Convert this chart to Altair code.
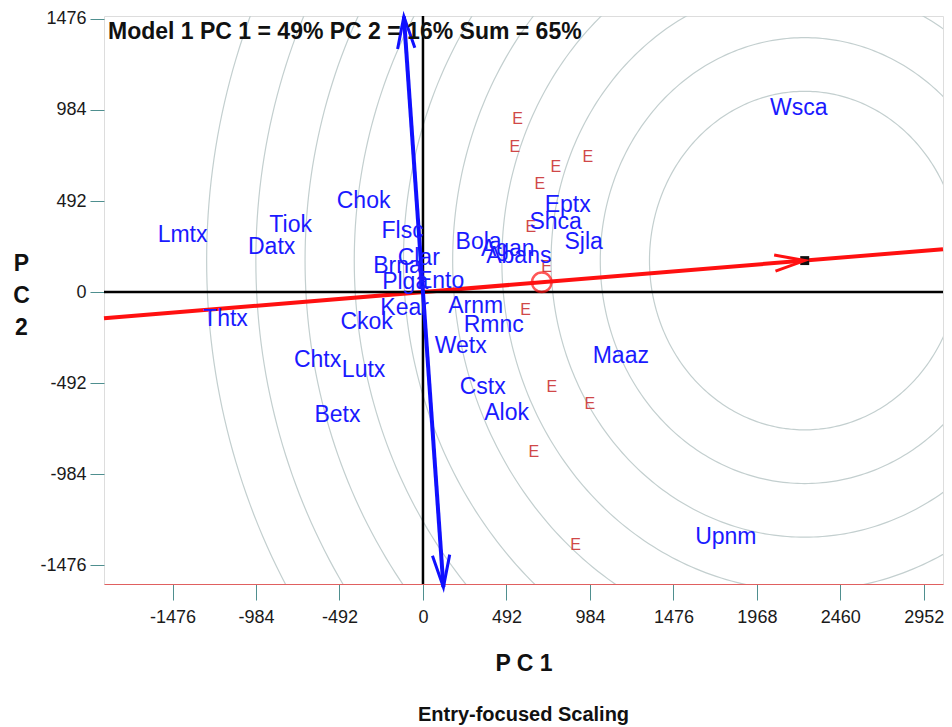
import altair as alt
import pandas as pd
import numpy as np

# ---- axis setup ----
x_ticks = [-1476, -984, -492, 0, 492, 984, 1476, 1968, 2460, 2952]
y_ticks = [-1476, -984, -492, 0, 492, 984, 1476]
x_domain = [-1880, 3065]
y_domain = [-1578, 1492]

# ---- genotype (entry) labels ----
entry_names = ["Wsca", "Lmtx", "Tiok", "Datx", "Chok", "Flsc", "Clar", "Brna",
               "Plga", "Ento", "Kear", "Ckok", "Thtx", "Chtx", "Lutx", "Betx",
               "Arnm", "Rmnc", "Wetx", "Cstx", "Alok", "Maaz", "Upnm", "Bola",
               "Agan", "Abans", "Eptx", "Shca", "Sjla"]
entry_x = [2215, -1417, -780, -892, -350, -120, -25, -150,
           -105, 104, -108, -332, -1164, -621, -350, -504,
           311, 417, 222, 352, 493, 1166, 1785, 328,
           500, 565, 853, 782, 947]
entry_y = [995, 308, 362, 243, 492, 330, 184, 141,
           54, 59, -86, -162, -146, -368, -422, -665,
           -76, -178, -292, -514, -654, -346, -1324, 270,
           232, 195, 470, 378, 270]

# ---- environment markers ----
env_x = [558, 541, 783, 971, 688, 635, 729, 605, 759, 983, 653, 900]
env_y = [935, 784, 676, 730, 584, 351, 135, -97, -513, -605, -865, -1368]

# ---- biplot guides ----
ideal_x, ideal_y = 2250, 170          # ideal entry (centre of rings)
avg_env_x, avg_env_y = 700, 53        # average environment
ring_radii = [915, 1205, 1495, 1785, 2075, 2365, 2655, 2945, 3235, 3525]
ordinate_y = [1490, -1595]

slope = ideal_y / ideal_x

# rings
theta = np.linspace(0, 2 * np.pi, 361)
ring_rows = []
for r in ring_radii:
    for i, t in enumerate(theta):
        ring_rows.append({"ring": r, "o": i,
                          "x": ideal_x + r * np.cos(t),
                          "y": ideal_y + r * np.sin(t)})
rings = pd.DataFrame(ring_rows)

aea = pd.DataFrame({"x": x_domain, "y": [slope * v for v in x_domain]})
ordinate = pd.DataFrame({"x": [-slope * v for v in ordinate_y], "y": ordinate_y})

entries = pd.DataFrame({"name": entry_names, "x": entry_x, "y": entry_y})
envs = pd.DataFrame({"name": ["E"] * len(env_x), "x": env_x, "y": env_y})

xs = alt.Scale(domain=x_domain, nice=False, zero=False)
ys = alt.Scale(domain=y_domain, nice=False, zero=False)

X = alt.X("x:Q", scale=xs,
          axis=alt.Axis(values=x_ticks, labelExpr="toString(datum.value)",
                        title="P C 1", grid=False,
                        labelFontSize=18, labelColor="#1a1a1a", labelPadding=8,
                        tickSize=16, tickColor="#4f8f8f", domain=True,
                        domainColor="#e06060", titleFontSize=23,
                        titleFontWeight="bold", titlePadding=26,
                        titleColor="#111"))
Y = alt.Y("y:Q", scale=ys,
          axis=alt.Axis(values=y_ticks, labelExpr="toString(datum.value)",
                        title=["P", "C", "2"], grid=False,
                        labelFontSize=18, labelColor="#1a1a1a", labelPadding=4,
                        tickSize=14, tickColor="#4f8f8f", domain=False,
                        titleAngle=0, titleFontSize=23, titleFontWeight="bold",
                        titleAlign="center", titleBaseline="top",
                        titleX=-83, titleY=236, titleLineHeight=32,
                        titleColor="#111"))

ring_layer = alt.Chart(rings).mark_line(color="#c3cfcf", strokeWidth=1.2,
                                        clip=True).encode(
    x=X, y=Y, detail="ring:N", order="o:Q")

zero_x = alt.Chart(pd.DataFrame({"v": [0]})).mark_rule(
    color="black", strokeWidth=2.5).encode(x=alt.X("v:Q", scale=xs))
zero_y = alt.Chart(pd.DataFrame({"v": [0]})).mark_rule(
    color="black", strokeWidth=2.5).encode(y=alt.Y("v:Q", scale=ys))

aea_layer = alt.Chart(aea).mark_line(color="#ff1010", strokeWidth=4).encode(
    x=alt.X("x:Q", scale=xs), y=alt.Y("y:Q", scale=ys))
ord_layer = alt.Chart(ordinate).mark_line(color="#1010ff", strokeWidth=4).encode(
    x=alt.X("x:Q", scale=xs), y=alt.Y("y:Q", scale=ys))

env_layer = alt.Chart(envs).mark_text(font="Liberation Sans", fontSize=16,
                                      color="#d04848").encode(
    x=alt.X("x:Q", scale=xs), y=alt.Y("y:Q", scale=ys), text="name:N")

entry_layer = alt.Chart(entries).mark_text(font="Liberation Sans", fontSize=23,
                                           color="#1a1aff").encode(
    x=alt.X("x:Q", scale=xs), y=alt.Y("y:Q", scale=ys), text="name:N")

avg_layer = alt.Chart(pd.DataFrame({"x": [avg_env_x], "y": [avg_env_y]})).mark_point(
    shape="circle", size=380, filled=False, color="#ff1010", strokeWidth=2.5).encode(
    x=alt.X("x:Q", scale=xs), y=alt.Y("y:Q", scale=ys))

ideal_layer = alt.Chart(pd.DataFrame({"x": [ideal_x], "y": [ideal_y]})).mark_point(
    shape="square", size=80, filled=True, color="#111", opacity=1).encode(
    x=alt.X("x:Q", scale=xs), y=alt.Y("y:Q", scale=ys))

vee = "M -0.27 1 L 0 0 L 0.27 1"
red_arrow = alt.Chart(pd.DataFrame({"x": [ideal_x], "y": [ideal_y], "a": [85.3]})).mark_point(
    shape=vee, size=3600, filled=False, color="#ff1010", strokeWidth=3, opacity=1).encode(
    x=alt.X("x:Q", scale=xs), y=alt.Y("y:Q", scale=ys),
    angle=alt.Angle("a:Q", scale=None))
blue_arrows = alt.Chart(pd.DataFrame({"x": ordinate["x"], "y": ordinate["y"],
                                      "a": [355.8, 175.8]})).mark_point(
    shape=vee, size=4096, filled=False, color="#1010ff", strokeWidth=3, opacity=1).encode(
    x=alt.X("x:Q", scale=xs), y=alt.Y("y:Q", scale=ys),
    angle=alt.Angle("a:Q", scale=None))

header = alt.Chart(pd.DataFrame({"t": ["Model 1 PC 1 = 49%  PC 2 = 16%  Sum = 65%"]})).mark_text(
    font="Liberation Sans", fontSize=23, fontWeight="bold", color="#111",
    align="left", baseline="top").encode(
    x=alt.value(4), y=alt.value(5), text="t:N")

chart = alt.layer(
    ring_layer, aea_layer, zero_x, zero_y, ord_layer, env_layer, entry_layer,
    avg_layer, ideal_layer, red_arrow, blue_arrows, header
).properties(
    width=839, height=568,
    padding={"left": 104, "top": 16, "right": 9, "bottom": 143},
    autosize=alt.AutoSizeParams(type="none"),
    title=alt.TitleParams("Entry-focused Scaling", orient="bottom", fontSize=20,
                          fontWeight="bold", font="Liberation Sans",
                          color="#111", offset=30, anchor="middle"),
).configure_view(stroke="#4f9a9a", strokeWidth=1.2
).configure_axis(labelFont="Liberation Sans", titleFont="Liberation Sans"
).configure(background="white")

chart.save("out.html", embed_options={"renderer": "svg", "actions": False})
